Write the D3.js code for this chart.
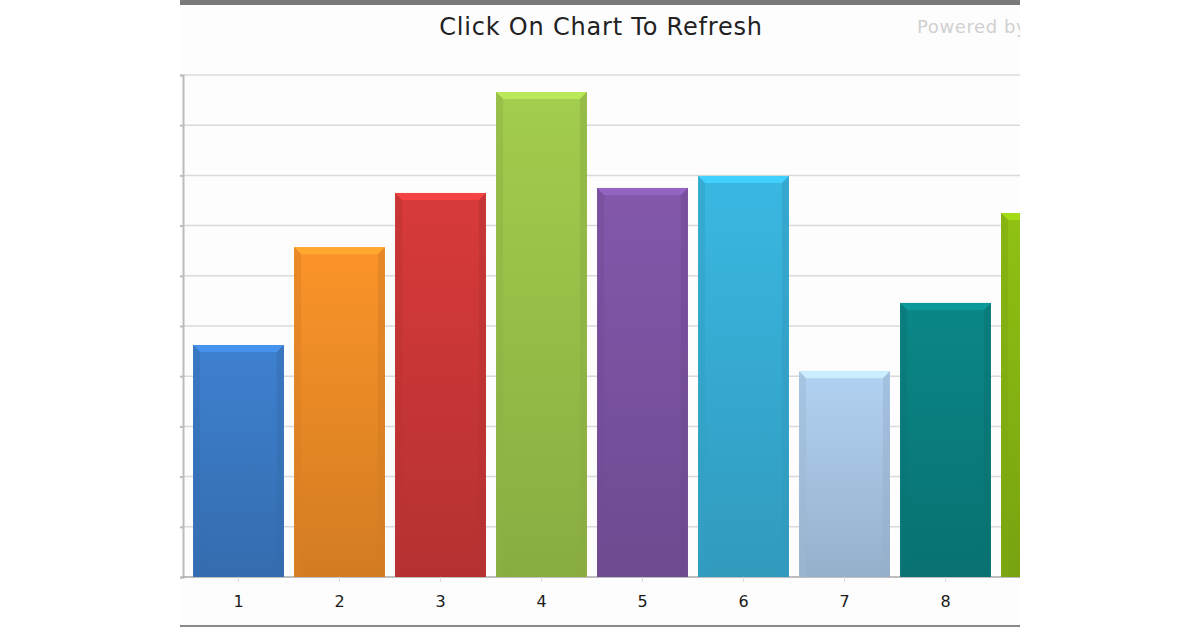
<!DOCTYPE html>
<html>
<head>
<meta charset="utf-8">
<script src="https://cdn.jsdelivr.net/npm/d3@7"></script>
<style>
  html, body { margin: 0; padding: 0; background: #fff; }
  #chart { width: 1200px; height: 630px; }
</style>
</head>
<body>
<div id="chart"></div>
<script>
var categories = ['1', '2', '3', '4', '5', '6', '7', '8', '9'];
var values = [46.2, 65.7, 76.5, 96.6, 77.5, 79.9, 41, 54.6, 72.5];
var yTicks = [0, 10, 20, 30, 40, 50, 60, 70, 80, 90, 100];
var barColors = ['#3a78c2', '#ea8a26', '#c93636', '#98bf48', '#7a52a0', '#36abd2', '#a6c4e2', '#0a7e7e', '#86b412'];
var titleText = 'Click On Chart To Refresh';
var poweredText = 'Powered by';

var frame = {left: 180, right: 1020, top: 0, bottom: 630};
var plot = {left: 183, top: 75, bottom: 577};

var createChart = function createChart() {
    var svg = d3.select('#chart').append('svg')
                .attr('width', 1200)
                .attr('height', 630);

    var defs = svg.append('defs');
    defs.append('clipPath').attr('id', 'frame-clip')
        .append('rect')
        .attr('x', frame.left).attr('y', frame.top)
        .attr('width', frame.right - frame.left)
        .attr('height', frame.bottom - frame.top);

    // one vertical gradient per bar colour
    barColors.forEach(function(c, i) {
        var g = defs.append('linearGradient')
                    .attr('id', 'bar-grad-' + i)
                    .attr('x1', 0).attr('y1', 0).attr('x2', 0).attr('y2', 1);
        g.append('stop').attr('offset', '0%').attr('stop-color', d3.color(c).brighter(0.2));
        g.append('stop').attr('offset', '100%').attr('stop-color', d3.color(c).darker(0.3));
    });

    var chart = svg.append('g').attr('clip-path', 'url(#frame-clip)');

    chart.append('rect')
         .attr('x', frame.left).attr('y', 0)
         .attr('width', frame.right - frame.left).attr('height', 630)
         .attr('fill', '#fdfdfd');

    var x = d3.scaleBand()
              .domain(categories)
              .range([188, 188 + 101 * categories.length])
              .paddingInner(0.1)
              .paddingOuter(0.05);

    var y = d3.scaleLinear()
              .domain([0, 100])
              .range([plot.bottom, plot.top]);

    var plotRight = x.range()[1];

    // gridlines
    chart.append('g').selectAll('line')
         .data(yTicks.slice(1))
         .enter().append('line')
            .attr('x1', plot.left).attr('x2', plotRight)
            .attr('y1', function(d) { return y(d); })
            .attr('y2', function(d) { return y(d); })
            .attr('stroke', '#dadada')
            .attr('stroke-width', 1.5);

    var yAxis = d3.axisLeft(y).tickValues(yTicks).tickSize(3).tickFormat('');
    var yg = chart.append('g')
                  .attr('transform', 'translate(' + plot.left + ',0)')
                  .call(yAxis);
    yg.selectAll('path, line').attr('stroke', '#bcbcbc').attr('stroke-width', 2);

    var xAxis = d3.axisBottom(x).tickSize(5).tickPadding(14);
    var xg = chart.append('g')
                  .attr('transform', 'translate(0,' + plot.bottom + ')')
                  .call(xAxis);
    xg.select('.domain').attr('d', 'M' + plot.left + ',0H' + plotRight)
      .attr('stroke', '#a8a8a8').attr('stroke-width', 1.5);
    xg.selectAll('.tick line').attr('stroke', '#dcdcdc');
    xg.selectAll('.tick text')
      .attr('fill', '#1a1a1a')
      .style('font-family', 'DejaVu Sans, Verdana, sans-serif')
      .style('font-size', '16px');

    createBars(chart, x, y);

    // title and credit
    svg.append('text')
       .attr('x', 601).attr('y', 35)
       .attr('text-anchor', 'middle')
       .attr('fill', '#222')
       .style('font-family', 'DejaVu Sans, Verdana, sans-serif')
       .style('font-size', '24px')
       .style('letter-spacing', '0.8px')
       .text(titleText);

    chart.append('text')
         .attr('x', 917).attr('y', 33)
         .attr('fill', '#d0d0d0')
         .style('font-family', 'DejaVu Sans, Verdana, sans-serif')
         .style('font-size', '18px')
         .style('letter-spacing', '0.6px')
         .text(poweredText);

    // frame borders
    svg.append('rect')
       .attr('x', frame.left).attr('y', 0)
       .attr('width', frame.right - frame.left).attr('height', 5)
       .attr('fill', '#7a7a7a');
    svg.append('rect')
       .attr('x', frame.left).attr('y', 625)
       .attr('width', frame.right - frame.left).attr('height', 2)
       .attr('fill', '#8a8a8a');
}

var createBars = function createBars(chart, x, y) {
    var bev = 7;
    var bars = chart.append('g').selectAll('g')
                    .data(categories)
                    .enter().append('g');

    bars.append('rect')
        .attr('x', function(d) { return x(d); })
        .attr('y', function(d, i) { return y(values[i]); })
        .attr('width', x.bandwidth())
        .attr('height', function(d, i) { return y(0) - y(values[i]); })
        .attr('fill', function(d, i) { return 'url(#bar-grad-' + i + ')'; });

    // top bevel
    bars.append('path')
        .attr('d', function(d, i) {
            var x0 = x(d), x1 = x(d) + x.bandwidth(), t = y(values[i]);
            return 'M' + x0 + ',' + t + 'H' + x1 + 'L' + (x1 - bev) + ',' + (t + bev) +
                   'H' + (x0 + bev) + 'Z';
        })
        .attr('fill', function(d, i) { return d3.color(barColors[i]).brighter(0.55); });

    // side bevels
    bars.append('path')
        .attr('d', function(d, i) {
            var x0 = x(d), t = y(values[i]), b = y(0);
            return 'M' + x0 + ',' + t + 'L' + (x0 + bev) + ',' + (t + bev) + 'V' + b + 'H' + x0 + 'Z';
        })
        .attr('fill', function(d, i) { return d3.color(barColors[i]).darker(0.2); })
        .attr('opacity', 0.5);
    bars.append('path')
        .attr('d', function(d, i) {
            var x1 = x(d) + x.bandwidth(), t = y(values[i]), b = y(0);
            return 'M' + x1 + ',' + t + 'L' + (x1 - bev) + ',' + (t + bev) + 'V' + b + 'H' + x1 + 'Z';
        })
        .attr('fill', function(d, i) { return d3.color(barColors[i]).darker(0.3); })
        .attr('opacity', 0.5);
}

createChart();
</script>
</body>
</html>
